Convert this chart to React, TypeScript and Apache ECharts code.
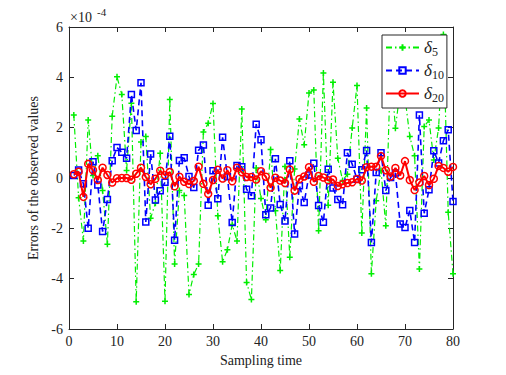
import React, { useEffect, useRef } from "react";
import * as echarts from "echarts";

// Errors (in units of 1e-4) at sampling times 1..80
const delta5: number[] = [
  2.5, -0.78, -2.5, 2.3, 0.1, 0.88, -0.5, -2.63, 2.45, 4.02,
  3.32, 0.3, 2.97, -4.92, 1.43, 1.65, -1.6, -1.0, 0.98, -4.9,
  3.12, -3.42, -0.5, -0.7, -4.63, -3.83, -3.42, 1.83, 2.18, 2.96,
  -1.5, -3.33, -2.85, -1.85, -2.5, 2.74, -4.15, -4.83, 0.4, -0.81,
  -1.66, 1.13, -1.3, -3.68, 0.46, -3.15, 0.36, 2.34, 1.32, 3.38,
  3.5, -2.1, 4.17, -1.08, 3.8, 0.78, -0.1, 0.15, 1.99, 3.68,
  -2.19, 2.78, -3.8, -0.9, 0.3, -1.9, 4.5, 1.98, 3.5, 3.2,
  1.65, 0.88, -3.62, 2.05, 2.3, 0.72, 1.99, 5.7, -1.36, -3.8,
];
const delta10: number[] = [
  0.1, 0.32, -0.23, -2.0, 0.65, -0.28, -2.13, -0.85, 0.69, 1.21,
  1.02, 0.78, 3.32, 1.89, 3.78, -1.75, 0.95, -0.87, -0.51, -0.17,
  1.66, -2.47, 0.7, 0.8, 0.06, -0.38, 1.1, 1.31, -1.08, 0.29,
  -0.82, 1.62, 0.05, -1.77, 0.5, 0.45, -0.45, -0.71, 2.14, 1.52,
  -1.46, -1.19, 0.76, -1.05, -1.71, 0.69, -2.23, -0.31, -0.97, 0.12,
  0.59, -1.09, -1.76, 0.35, -0.4, -0.85, -1.06, 1.0, 0.55, -0.05,
  0.33, 1.09, -2.56, 0.22, 1.0, -0.5, 0.02, 0.2, -1.83, -1.97,
  -1.29, -2.56, 2.5, -1.4, -0.47, 1.08, 0.6, 1.48, 1.92, -0.93,
];
const delta20: number[] = [
  0.15, 0.25, -0.75, 0.56, 0.31, -0.08, 0.41, 0.12, -0.18, -0.01,
  0.0, 0.0, -0.07, 0.17, 0.41, 0.04, -0.25, -0.03, 0.29, 0.11,
  0.24, -0.33, 0.05, -0.15, -0.24, -0.12, 0.45, -0.23, -0.63, -0.08,
  0.33, -0.02, 0.31, -0.13, 0.41, 0.23, 0.04, 0.04, -0.06, 0.27,
  0.05, -0.38, 0.01, -0.1, -0.2, 0.34, -0.5, -0.04, 0.06, 0.43,
  -0.15, 0.08, 0.02, -0.09, -0.06, -0.32, -0.25, -0.2, -0.17, -0.04,
  -0.1, 0.43, 0.45, 0.45, 0.87, 0.31, 0.06, 0.4, 0.1, 0.67,
  -0.08, -0.48, -0.18, 0.08, -0.28, -0.03, 0.48, 0.4, 0.25, 0.44,
];
const seriesNames = ["δ5", "δ10", "δ20"];
const subscripts = ["5", "10", "20"];

const FONT = "Liberation Serif";
const AXIS = "#262626";

const toPoints = (vals: number[]) => vals.map((v, i) => [i + 1, v]);

export default function App() {
  const ref = useRef<HTMLDivElement>(null);
  useEffect(() => {
    document.body.style.margin = "0";
    const chart = echarts.init(ref.current!, undefined, { renderer: "svg" });
    const axisCommon = {
      axisLine: { show: true, onZero: false, lineStyle: { color: AXIS, width: 1 } },
      axisTick: { show: true, inside: true, length: 5, lineStyle: { color: AXIS } },
      splitLine: { show: false },
    };
    const plus = "path://M0,-5L0,5M-5,0L5,0";
    chart.setOption({
      animation: false,
      backgroundColor: "#fff",
      grid: { left: 69, right: 53, top: 27, bottom: 46, containLabel: false },
      xAxis: [
        {
          type: "value", min: 0, max: 80, interval: 10, position: "bottom",
          name: "Sampling time", nameLocation: "middle", nameGap: 24,
          nameTextStyle: { fontFamily: FONT, fontSize: 14, color: "#222" },
          axisLabel: { fontFamily: FONT, fontSize: 14, color: "#222", margin: 5 },
          ...axisCommon,
        },
        {
          type: "value", min: 0, max: 80, interval: 10, position: "top",
          axisLabel: { show: false }, ...axisCommon,
        },
      ],
      yAxis: [
        {
          type: "value", min: -6, max: 6, interval: 2, position: "left",
          name: "Errors of the observed values", nameLocation: "middle", nameGap: 17,
          nameTextStyle: { fontFamily: FONT, fontSize: 14, color: "#222" },
          axisLabel: { fontFamily: FONT, fontSize: 14, color: "#222", margin: 6 },
          ...axisCommon,
        },
        {
          type: "value", min: -6, max: 6, interval: 2, position: "right",
          axisLabel: { show: false }, ...axisCommon,
        },
      ],
      legend: {
        orient: "vertical", left: 382, top: 35,
        backgroundColor: "#fff", borderColor: AXIS, borderWidth: 1,
        padding: [2, 3, 4, 3], itemGap: 2, itemWidth: 33, itemHeight: 8,
        data: seriesNames,
        formatter: (name: string) => `{d|δ}{s|${subscripts[seriesNames.indexOf(name)]}}`,
        textStyle: {
          rich: {
            d: { fontFamily: FONT, fontStyle: "italic", fontSize: 17, color: "#222", lineHeight: 22 },
            s: { fontFamily: FONT, fontSize: 12, color: "#222", padding: [9, 0, 0, 0], lineHeight: 22 },
          },
        },
      },
      graphic: [
        { type: "text", left: 70, top: 10, style: { text: "×10", font: `14px '${FONT}'`, fill: "#222" } },
        { type: "text", left: 97, top: 6, style: { text: "-4", font: `11px '${FONT}'`, fill: "#222" } },
      ],
      series: [
        {
          name: seriesNames[0], type: "line", data: toPoints(delta5),
          symbol: plus, symbolSize: 6,
          lineStyle: { color: "#00ee00", width: 1.2, type: [6, 3, 1.5, 3] },
          itemStyle: { color: "#00ee00", borderColor: "#00ee00", borderWidth: 1.5 },
          z: 2,
        },
        {
          name: seriesNames[1], type: "line", data: toPoints(delta10),
          symbol: "rect", symbolSize: 6,
          lineStyle: { color: "#0000ff", width: 1.6, type: [6, 4] },
          itemStyle: { color: "rgba(255,255,255,0)", borderColor: "#0000ff", borderWidth: 1.5 },
          z: 3,
        },
        {
          name: seriesNames[2], type: "line", data: toPoints(delta20),
          symbol: "circle", symbolSize: 7,
          lineStyle: { color: "#ff0000", width: 2 },
          itemStyle: { color: "rgba(255,255,255,0)", borderColor: "#ff0000", borderWidth: 1.5 },
          z: 4,
        },
      ],
    });
    return () => chart.dispose();
  }, []);
  return <div ref={ref} style={{ width: 506, height: 375 }} />;
}
